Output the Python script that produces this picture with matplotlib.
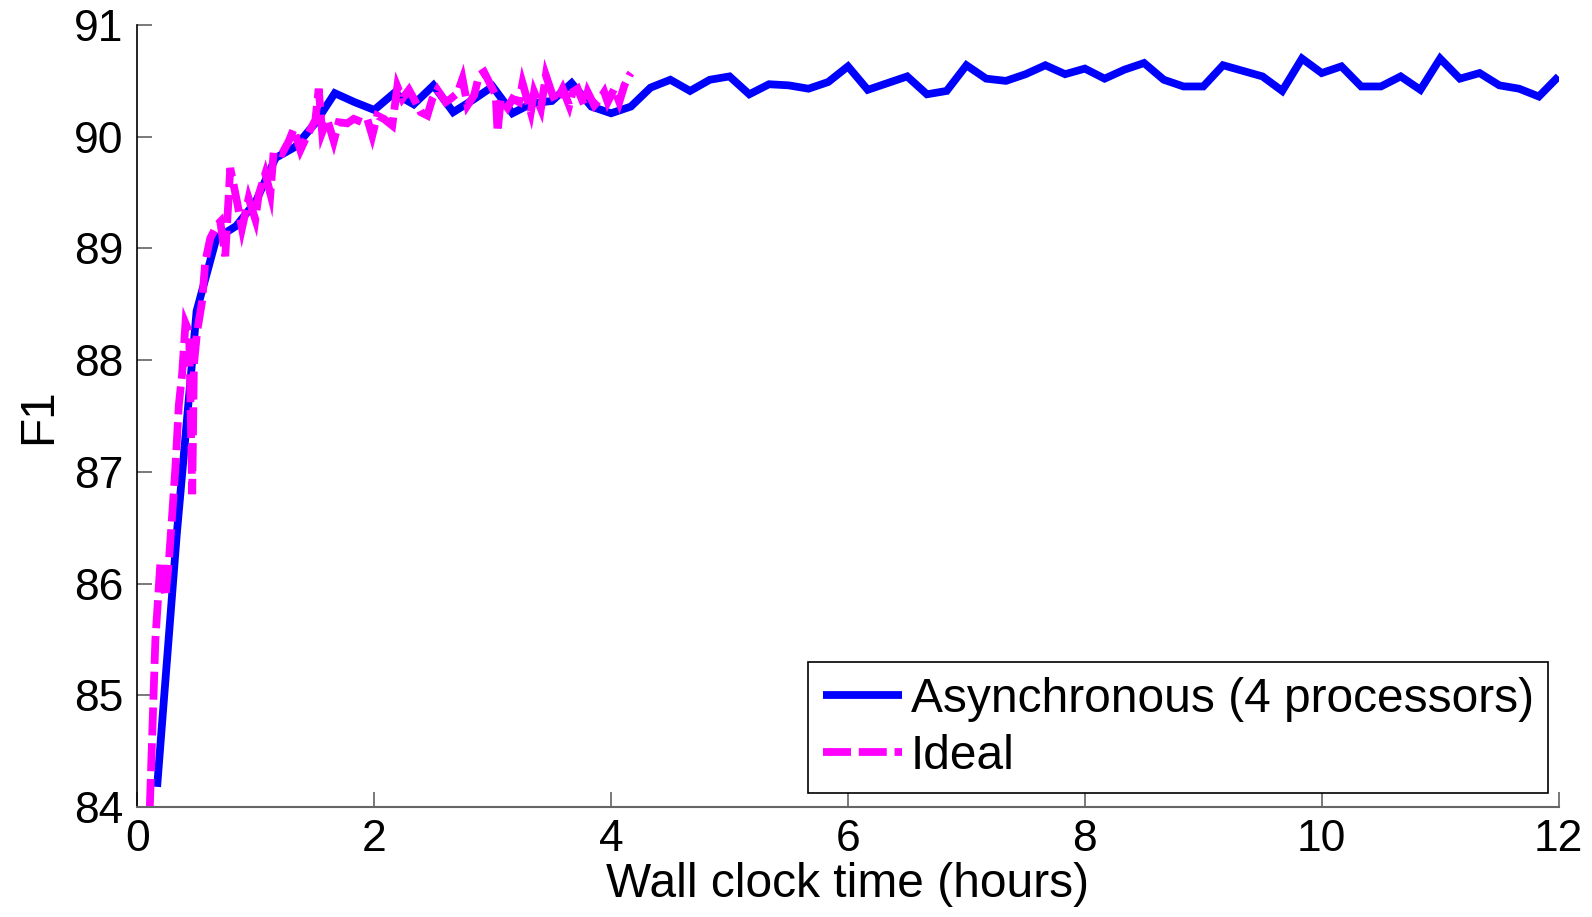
import matplotlib
matplotlib.use('Agg')
import matplotlib.pyplot as plt
import numpy as np

# Asynchronous run: one F1 evaluation every 10 minutes
async_step = np.arange(1, 73)
async_f1 = [84.18, 86.45, 88.44, 89.09, 89.20, 89.42, 89.81, 89.91, 90.12, 90.39,
            90.31, 90.24, 90.39, 90.29, 90.46, 90.22, 90.33, 90.45, 90.21, 90.30,
            90.32, 90.48, 90.27, 90.21, 90.27, 90.44, 90.51, 90.41, 90.51, 90.54,
            90.38, 90.47, 90.46, 90.43, 90.49, 90.63, 90.42, 90.48, 90.54, 90.38,
            90.41, 90.64, 90.52, 90.50, 90.56, 90.64, 90.56, 90.61, 90.52, 90.60,
            90.66, 90.51, 90.45, 90.45, 90.64, 90.59, 90.54, 90.41, 90.70, 90.57,
            90.63, 90.45, 90.45, 90.54, 90.42, 90.70, 90.52, 90.57, 90.46, 90.43,
            90.36, 90.54]
async_hours = async_step / 6.0

# Ideal run
ideal_hours = [0.105, 0.152, 0.195, 0.237, 0.266, 0.294, 0.321, 0.350, 0.378, 0.406,
               0.437, 0.463, 0.477, 0.505, 0.547, 0.573, 0.615, 0.672, 0.700, 0.742,
               0.784, 0.841, 0.883, 0.939, 0.996, 1.024, 1.080, 1.123, 1.151, 1.222,
               1.278, 1.320, 1.376, 1.433, 1.503, 1.531, 1.560, 1.602, 1.658, 1.700,
               1.772, 1.827, 1.898, 1.941, 1.983, 2.025, 2.081, 2.152, 2.195, 2.237,
               2.293, 2.335, 2.392, 2.448, 2.491, 2.533, 2.603, 2.646, 2.702, 2.745,
               2.787, 2.843, 2.885, 2.927, 2.984, 3.026, 3.041, 3.069, 3.125, 3.168,
               3.223, 3.252, 3.322, 3.350, 3.407, 3.449, 3.506, 3.534, 3.591, 3.646,
               3.675, 3.717, 3.773, 3.802, 3.858, 3.900, 3.942, 3.971, 4.027, 4.069,
               4.112, 4.154, 4.168]
ideal_f1 = [84.00, 85.50, 86.20, 85.88, 86.20, 86.62, 87.04, 87.60, 87.88, 88.33,
            88.25, 86.80, 87.96, 88.26, 88.53, 88.88, 89.09, 89.21, 89.24, 88.93,
            89.72, 89.42, 89.18, 89.45, 89.26, 89.48, 89.67, 89.49, 89.87, 89.85,
            89.96, 90.07, 89.88, 90.01, 90.15, 90.43, 90.04, 90.16, 89.96, 90.13,
            90.12, 90.16, 90.13, 90.16, 90.01, 90.19, 90.16, 90.10, 90.45, 90.34,
            90.42, 90.34, 90.22, 90.19, 90.34, 90.42, 90.31, 90.34, 90.39, 90.52,
            90.28, 90.37, 90.55, 90.58, 90.46, 90.37, 90.04, 90.34, 90.26, 90.34,
            90.31, 90.48, 90.22, 90.40, 90.25, 90.55, 90.37, 90.31, 90.43, 90.28,
            90.40, 90.43, 90.28, 90.40, 90.28, 90.33, 90.40, 90.31, 90.43, 90.31,
            90.46, 90.55, 90.57]

plt.rcParams['font.family'] = ['Liberation Sans', 'DejaVu Sans']

fig = plt.figure(figsize=(15.92, 9.17), dpi=100)
ax = fig.add_axes([0.0863, 0.12, 0.8927, 0.8527])

ax.plot(async_hours, async_f1, color='#0000ff', lw=5.6, solid_joinstyle='miter',
        solid_capstyle='butt', label='Asynchronous (4 processors)')
ax.plot(ideal_hours, ideal_f1, color='#ff00ff', lw=5.6, linestyle='--', dashes=(3.6, 1.0),
        dash_joinstyle='miter', label='Ideal')

ax.set_xlim(0, 12)
ax.set_ylim(84, 91)
ax.set_xticks(range(0, 13, 2))
ax.set_yticks(range(84, 92))

for s in ['top', 'right']:
    ax.spines[s].set_visible(False)
ax.spines['left'].set_color('black')
ax.spines['bottom'].set_color('#666666')
ax.spines['left'].set_linewidth(1.2)
ax.spines['bottom'].set_linewidth(1.5)

ax.tick_params(direction='in', length=11, width=1.1, color='#555555', labelsize=32)
ax.tick_params(axis='x', pad=9)
ax.tick_params(axis='y', pad=10)

ax.set_xlabel('Wall clock time (hours)', fontsize=34.5, labelpad=1)
ax.set_ylabel('F1', fontsize=34.5, labelpad=9)

leg = ax.legend(loc='lower right', bbox_to_anchor=(0.9926, 0.018), borderaxespad=0,
                fontsize=34.5, handlelength=1.66, handletextpad=0.17, labelspacing=0.25,
                borderpad=0.3, fancybox=False, framealpha=1, edgecolor='black')
leg.get_frame().set_linewidth(1.2)

fig.savefig('out.png', dpi=100)
